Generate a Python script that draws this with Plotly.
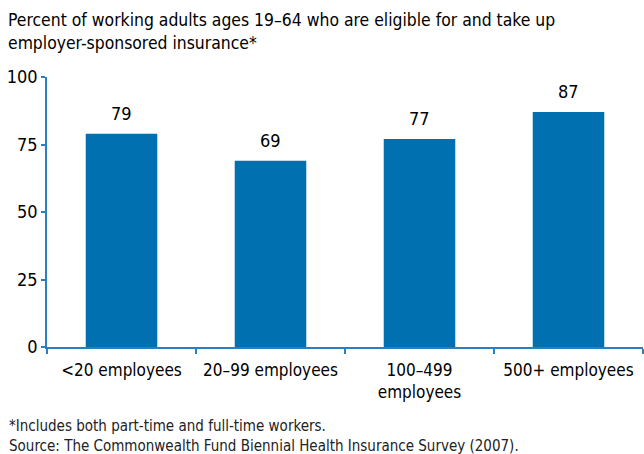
import plotly.graph_objects as go

# Share of working adults 19–64 eligible for and taking up employer coverage, by firm size
categories = ["<20 employees", "20–99 employees", "100–499<br>employees", "500+ employees"]
values = [79, 69, 77, 87]
y_ticks = [0, 25, 50, 75, 100]

BAR_BLUE = "#0070b0"
AXIS_BLUE = "#2a7fc0"
NARROW = "DejaVu Sans Condensed, Liberation Sans Narrow, sans-serif"

W, H = 644, 454
L, R, T, B = 47, 1, 77, 107
plot_w = W - L - R
plot_h = H - T - B

fig = go.Figure(
    go.Bar(
        x=categories,
        y=values,
        marker=dict(color=BAR_BLUE, line=dict(width=0)),
        width=0.48,
        hoverinfo="skip",
    )
)

# value labels above each bar
for cat, v in zip(categories, values):
    fig.add_annotation(
        x=cat, y=v, xref="x", yref="y",
        text=str(v), showarrow=False,
        yanchor="bottom", yshift=8,
        font=dict(family=NARROW, size=18, color="#000000"),
    )


def px_to_paper_x(px):
    return (px - L) / plot_w


def px_to_paper_y(py):
    return (H - B - py) / plot_h


# chart heading
fig.add_annotation(
    x=px_to_paper_x(6), y=px_to_paper_y(8), xref="paper", yref="paper",
    xanchor="left", yanchor="top", align="left", showarrow=False,
    text="Percent of working adults ages 19–64 who are eligible for and take up<br>"
         "employer-sponsored insurance*",
    font=dict(family=NARROW, size=17.4, color="#000000"),
)

# footnotes
fig.add_annotation(
    x=px_to_paper_x(7), y=px_to_paper_y(415), xref="paper", yref="paper",
    xanchor="left", yanchor="top", align="left", showarrow=False,
    text="*Includes both part-time and full-time workers.<br>"
         "Source: The Commonwealth Fund Biennial Health Insurance Survey (2007).",
    font=dict(family=NARROW, size=15, color="#222222"),
)

fig.update_layout(
    width=W, height=H,
    margin=dict(l=L, r=R, t=T, b=B),
    paper_bgcolor="white", plot_bgcolor="white",
    showlegend=False,
    xaxis=dict(
        type="category",
        range=[-0.5, len(categories) - 0.5],
        tickson="boundaries",
        showline=True, linecolor=AXIS_BLUE, linewidth=1.5,
        ticks="outside", ticklen=5, tickcolor=AXIS_BLUE, tickwidth=1.5,
        showgrid=False, zeroline=False,
        ticklabelstandoff=7,
        tickfont=dict(family=NARROW, size=17, color="#000000"),
    ),
    yaxis=dict(
        range=[0, 100],
        tickmode="array", tickvals=y_ticks,
        showline=True, linecolor=AXIS_BLUE, linewidth=1.5,
        ticks="outside", ticklen=4, tickcolor=AXIS_BLUE, tickwidth=1.5,
        showgrid=False, zeroline=False,
        ticklabelstandoff=0,
        tickfont=dict(family=NARROW, size=18, color="#000000"),
    ),
)

fig.write_html("out.html")
